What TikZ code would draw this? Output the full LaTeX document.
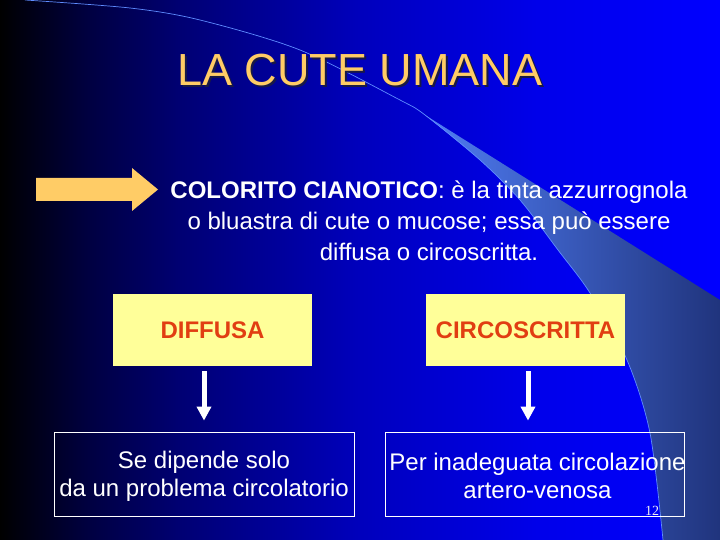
\documentclass[tikz,border=0pt]{standalone}
\usepackage{fontspec}
\setmainfont{Liberation Sans}
\newfontfamily\serifnum{Liberation Serif}
\usetikzlibrary{arrows.meta}
\definecolor{titlecol}{RGB}{255,204,102}
\definecolor{shadowcol}{RGB}{25,25,70}
\definecolor{boxfill}{RGB}{255,255,153}
\definecolor{boxtext}{RGB}{225,62,18}
\definecolor{curvecol}{RGB}{95,140,255}
\definecolor{wedgelight}{RGB}{80,125,245}
\definecolor{wedgedark}{RGB}{32,52,125}
\pgfdeclarehorizontalshading{bgshade}{100bp}{rgb(0bp)=(0,0,0); rgb(25bp)=(0,0,0); rgb(31bp)=(0,0,0.25); rgb(37.5bp)=(0,0,0.45); rgb(50bp)=(0,0,0.74); rgb(62.5bp)=(0,0,0.92); rgb(75bp)=(0,0,1); rgb(100bp)=(0,0,1)}
\tikzset{
  ybox/.style={draw=none, fill=boxfill, minimum width=199pt, minimum height=72pt, inner sep=0pt,
    text=boxtext, font=\fontsize{24}{28}\selectfont\bfseries},
  wbox/.style={draw=white, line width=0.8pt, minimum width=300pt, minimum height=84pt, inner sep=0pt},
  wtext/.style={text=white, align=center, inner sep=0pt, font=\fontsize{24}{28}\selectfont},
  warrow/.style={draw=white, line width=5pt, -{Triangle[width=14pt,length=14pt]}},
}
\begin{document}
\begin{tikzpicture}[x=1pt,y=-1pt]
\useasboundingbox (0,0) rectangle (720,540);
% background
\shade[shading=bgshade] (0,0) rectangle (720,540);
% light wedge
\shade[left color=wedgelight, right color=wedgedark]
  plot[smooth] coordinates {(425,115) (480,160) (520,200) (558,250) (590,293) (627,360) (650,433) (663,540)}
  -- (720,540) -- (720,300) -- cycle;
% thin curve
\draw[curvecol, line width=0.7pt]
  plot[smooth] coordinates {(25,0) (130,8) (200,20) (300,50) (400,100) (425,115) (480,160) (520,200) (558,250) (590,293) (627,360) (650,433) (663,540)};
% title
\node[text=shadowcol, font=\fontsize{45}{50}\selectfont] at (362,72) {LA CUTE UMANA};
\node[text=titlecol, font=\fontsize{45}{50}\selectfont] (title) at (360,70) {LA CUTE UMANA};
% orange arrow
\fill[titlecol] (36,178) -- (132,178) -- (132,168) -- (158,189.5) -- (132,211) -- (132,201) -- (36,201) -- cycle;
% header text
\node[text=white, align=center, font=\fontsize{24}{31}\selectfont] (head) at (429,221)
  {\textbf{COLORITO CIANOTICO}: è la tinta azzurrognola\\
   o bluastra di cute o mucose; essa può essere\\
   diffusa o circoscritta.};
% yellow boxes
\node[ybox] (diff) at (212.5,330) {DIFFUSA};
\node[ybox] (circ) at (525.5,330) {CIRCOSCRITTA};
% bottom boxes
\node[wbox] (b1) at (204,474) {};
\node[wbox, minimum width=299pt] (b2) at (534.5,474) {};
\node[wtext] (t1) at (204,476) {Se dipende solo\\da un problema circolatorio};
\node[wtext] (t2) at (537.5,476) {Per inadeguata circolazione\\artero-venosa};
% arrows
\draw[warrow, shorten <=5pt, shorten >=11pt] (diff.south -| b1.north) -- (b1.north);
\draw[warrow, shorten <=5pt, shorten >=11pt] ([xshift=2.5pt]circ.south) -- ([xshift=2.5pt]circ.south |- b2.north);
% page number
\node[text=white!88!gray, font=\serifnum\fontsize{14}{16}\selectfont, anchor=base] (pg) at (652,515) {12};
\end{tikzpicture}
\end{document}
